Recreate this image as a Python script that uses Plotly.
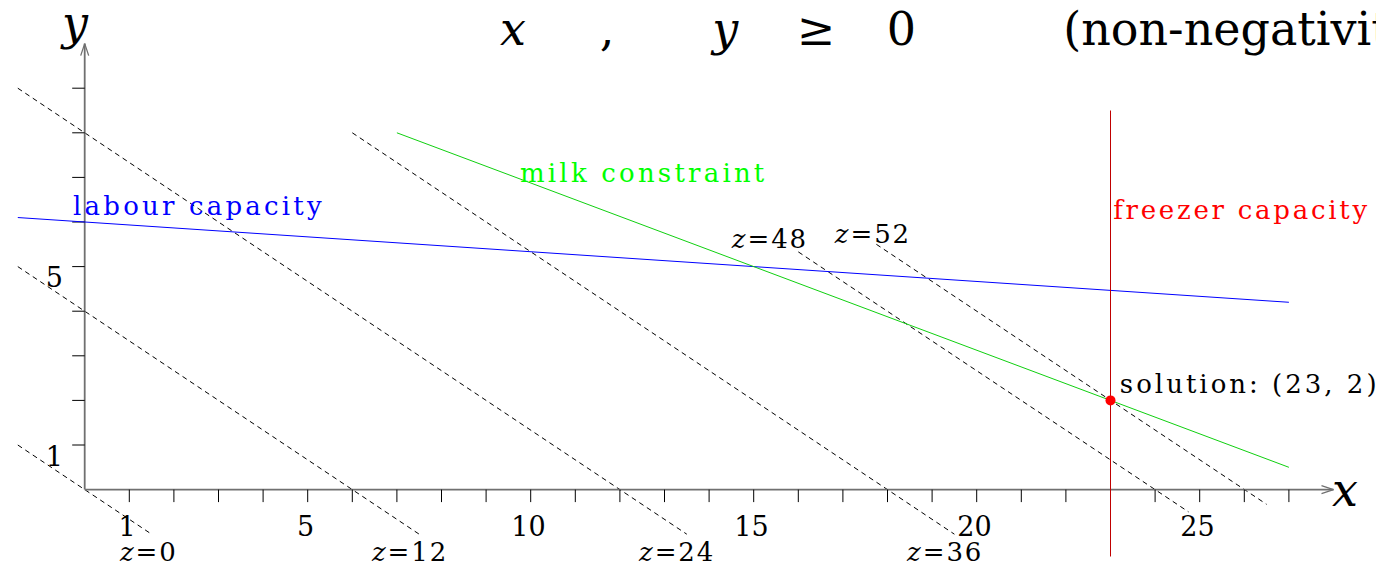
import plotly.graph_objects as go

# ---------------- data ----------------
x_tick_values = list(range(1, 28))
y_tick_values = list(range(1, 10))
x_tick_labels = ["1", "5", "10", "15", "20", "25"]
x_tick_label_values = [1, 5, 10, 15, 20, 25]
y_tick_labels = ["1", "5"]
y_tick_label_values = [1, 5]

# labour capacity:  x + 15y = 90
labour_x = [-1.5, 27]
labour_y = [6.1, 4.2]
# milk constraint: 3x + 8y = 85
milk_x = [7, 27]
milk_y = [8, 0.5]
# freezer capacity: x = 23
freezer_x = [23, 23]
freezer_y = [-1.5, 8.5]

# objective z = 2x + 3y, iso-profit lines
z_levels = [0, 12, 24, 36, 48, 52]
z_x_start = [-1.5, -1.5, -1.5, 6, 16, 17.75]
z_y_start = [1, 5, 9, 8, 5.33, 5.5]
z_x_end = [1.5, 7.5, 13.5, 19.5, 24.75, 26.5]
z_y_end = [-1, -1, -1, -1, -0.5, -0.33]

solution_x = [23]
solution_y = [2]

# ---------------- geometry helpers ----------------
# the page body has an 8px margin, so the figure starts at (8, 8) of the window
PAGE_OFF = 8
W, H = 1384 - PAGE_OFF, 566 - PAGE_OFF
X0_PX, Y0_PX, SCALE = 84.7 - PAGE_OFF, 489.6 - PAGE_OFF, 44.6
XR = [(0 - X0_PX) / SCALE, (W - X0_PX) / SCALE]
YR = [(Y0_PX - H) / SCALE, (Y0_PX - 0) / SCALE]


def px(v):
    """pixel length -> data length"""
    return v / SCALE


FONT = "DejaVu Serif"
fig = go.Figure()


def seg_trace(xs, ys, color, width, dash="solid"):
    fig.add_trace(go.Scatter(x=xs, y=ys, mode="lines",
                             line=dict(color=color, width=width, dash=dash),
                             hoverinfo="skip", showlegend=False))


def text(x, y_base, s, size, color="black", pos="middle right", spacing=0):
    # scatter text with 'middle' position puts the baseline 0.25*size below the point
    if spacing:
        s = f'<span style="letter-spacing:{spacing}px">{s}</span>'
    fig.add_trace(go.Scatter(x=[x], y=[y_base + px(0.25 * size)], mode="text",
                             text=[s], textposition=pos,
                             textfont=dict(family=FONT, size=size, color=color),
                             hoverinfo="skip", showlegend=False))


# ---------------- objective (dashed) lines ----------------
for xs, ys, xe, ye in zip(z_x_start, z_y_start, z_x_end, z_y_end):
    seg_trace([xs, xe], [ys, ye], "black", 1, dash="5px,4px")

# ---------------- axes ----------------
AX = "#707070"
xe = x_tick_values[-1] + 1
ye = y_tick_values[-1] + 1
seg_trace([0, xe], [0, 0], AX, 1.8)
seg_trace([0, 0], [0, ye], AX, 1.8)
seg_trace([xe - px(12), xe, xe - px(12)], [px(4), 0, -px(4)], AX, 1.3)
seg_trace([-px(4), 0, px(4)], [ye - px(12), ye, ye - px(12)], AX, 1.3)

tx, ty = [], []
for v in x_tick_values:
    tx += [v, v, None]
    ty += [0, -px(12.5), None]
seg_trace(tx, ty, "black", 1)
tx, ty = [], []
for v in y_tick_values:
    tx += [-px(12.5), 0, None]
    ty += [v, v, None]
seg_trace(tx, ty, "black", 1)

# ---------------- constraints ----------------
seg_trace(labour_x, labour_y, "#0000ff", 1)
seg_trace(milk_x, milk_y, "#10d010", 1)
seg_trace(freezer_x, freezer_y, "#c00000", 1)

fig.add_trace(go.Scatter(x=solution_x, y=solution_y, mode="markers",
                         marker=dict(color="#ff0000", size=10),
                         hoverinfo="skip", showlegend=False))

# ---------------- tick labels ----------------
for v, s in zip(x_tick_label_values, x_tick_labels):
    text(v - 0.05, -px(46.5), s, 27, pos="middle center")
for v, s in zip(y_tick_label_values, y_tick_labels):
    text(-0.68, v - px(20.5), s, 27, pos="middle center")

# axis names
text(-0.22, 10.11, "<i>y</i>", 46, pos="middle center")
text(28.26, -0.37, "<i>x</i>", 46, pos="middle center")

# title-like line at the top
text(9.60, 9.97, "<i>x</i>", 46, pos="middle center")
text(11.71, 9.97, ",", 46, pos="middle center")
text(14.36, 9.97, "<i>y</i>", 46, pos="middle center")
text(16.40, 9.97, "≥", 46, pos="middle center")
text(18.31, 9.97, "0", 46, pos="middle center")
text(21.94, 9.97, "(non-negativity)", 46, pos="middle right")

# constraint labels
text(-0.26, 6.16, "labour capacity", 26, "#0000ff", spacing=3.2)
text(9.76, 6.90, "milk constraint", 26, "#00ff00", spacing=3.2)
text(23.06, 6.07, "freezer capacity", 26, "#ff0000", spacing=2.75)
text(23.21, 2.17, "solution: (23, 2)", 26, "black", spacing=3.0)

# objective labels
z_label_pos = {0: (0.79, -1.60), 12: (6.44, -1.60), 24: (12.43, -1.60),
               36: (18.44, -1.60), 48: (14.51, 5.42), 52: (16.82, 5.53)}
for z in z_levels:
    lx, ly = z_label_pos[z]
    text(lx, ly, f"<i>z</i>={z}", 26, spacing=1.9)

fig.update_layout(
    width=W, height=H,
    margin=dict(l=0, r=0, t=0, b=0),
    paper_bgcolor="white", plot_bgcolor="white",
    showlegend=False,
    xaxis=dict(range=XR, visible=False, fixedrange=True),
    yaxis=dict(range=YR, visible=False, fixedrange=True),
)

fig.write_html("out.html")
